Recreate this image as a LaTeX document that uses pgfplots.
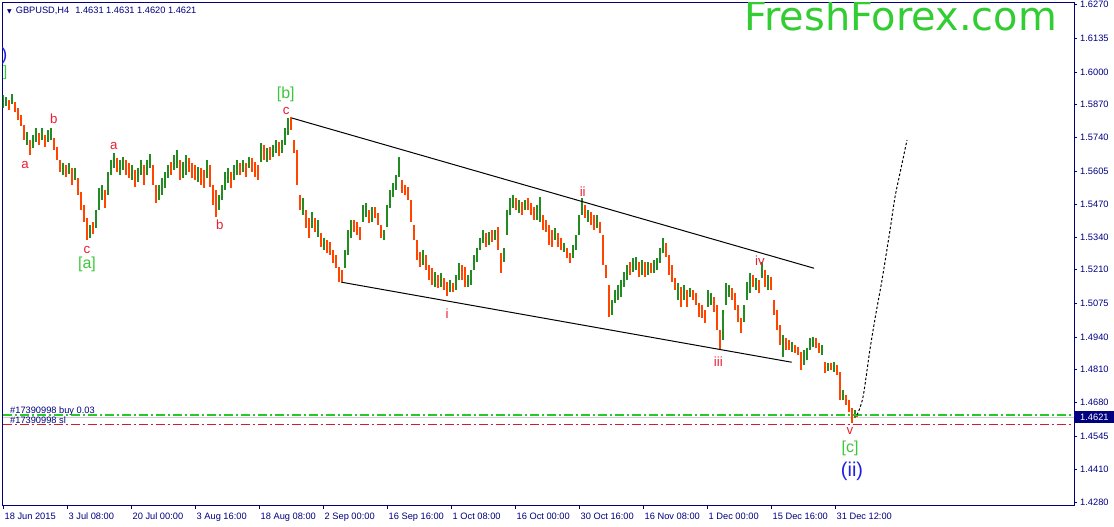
\documentclass[border=0pt]{standalone}
\usepackage{fontspec}
\setmainfont{Liberation Sans}
\newfontfamily\dejavu{DejaVu Sans}
\usepackage{pgfplots}
\pgfplotsset{compat=1.18}
\usepackage{pgfplotstable}
\definecolor{navy}{RGB}{0,0,128}
\definecolor{upg}{RGB}{34,139,34}
\definecolor{dno}{RGB}{255,69,0}
\definecolor{wred}{RGB}{235,30,50}
\definecolor{wgreen}{RGB}{60,200,60}
\definecolor{wblue}{RGB}{30,30,230}
\definecolor{ffgreen}{RGB}{50,205,50}
\definecolor{buygreen}{RGB}{40,200,40}
\definecolor{slred}{RGB}{215,25,45}
\definecolor{bidgray}{RGB}{205,205,205}
\pgfplotstableread{
x lo hi c
0 1.5857 1.5909 1
3 1.5865 1.5901 1
6 1.5849 1.5889 0
9 1.5873 1.5913 1
12 1.5841 1.5881 0
15 1.5809 1.5857 0
18 1.5785 1.5829 0
21 1.5729 1.5789 0
24 1.5709 1.5761 1
27 1.5669 1.5729 0
30 1.5697 1.5749 1
33 1.5721 1.5777 1
36 1.5709 1.5757 0
39 1.5729 1.5777 1
42 1.5701 1.5749 0
45 1.5721 1.5769 1
48 1.5729 1.5777 1
51 1.5689 1.5737 0
54 1.5649 1.5701 0
57 1.5601 1.5649 0
60 1.5589 1.5637 1
63 1.5581 1.5629 0
66 1.5593 1.5637 1
69 1.5549 1.5617 0
72 1.5569 1.5617 1
75 1.5509 1.5577 0
78 1.5449 1.5521 0
81 1.5401 1.5469 0
84 1.5329 1.5417 0
87 1.5337 1.5389 1
90 1.5353 1.5401 0
93 1.5377 1.5449 1
96 1.5449 1.5537 1
99 1.5489 1.5549 1
102 1.5457 1.5529 0
105 1.5509 1.5601 1
108 1.5589 1.5649 1
111 1.5617 1.5677 1
114 1.5601 1.5657 0
117 1.5589 1.5649 1
120 1.5609 1.5661 1
123 1.5589 1.5649 0
126 1.5577 1.5637 0
129 1.5569 1.5629 1
132 1.5541 1.5609 0
135 1.5561 1.5617 1
138 1.5589 1.5649 1
141 1.5549 1.5629 0
144 1.5589 1.5649 1
147 1.5617 1.5673 1
150 1.5549 1.5629 0
153 1.5477 1.5549 0
156 1.5489 1.5549 1
159 1.5509 1.5577 1
162 1.5537 1.5601 1
165 1.5577 1.5629 1
168 1.5589 1.5641 0
171 1.5609 1.5669 1
174 1.5617 1.5689 1
177 1.5569 1.5649 0
180 1.5577 1.5641 1
183 1.5589 1.5669 1
186 1.5601 1.5657 0
189 1.5577 1.5637 0
192 1.5569 1.5629 0
195 1.5561 1.5621 1
198 1.5549 1.5617 0
201 1.5537 1.5609 0
204 1.5577 1.5649 1
207 1.5541 1.5629 0
210 1.5469 1.5549 0
213 1.5421 1.5529 0
216 1.5449 1.5509 1
219 1.5489 1.5549 1
222 1.5529 1.5601 1
225 1.5557 1.5617 1
228 1.5537 1.5601 0
231 1.5569 1.5629 1
234 1.5589 1.5649 1
237 1.5589 1.5637 0
240 1.5601 1.5649 1
243 1.5581 1.5637 0
246 1.5617 1.5661 1
249 1.5601 1.5657 0
252 1.5581 1.5641 0
255 1.5569 1.5629 0
258 1.5641 1.5717 1
261 1.5649 1.5709 0
264 1.5641 1.5697 1
267 1.5649 1.5701 0
270 1.5661 1.5709 1
273 1.5677 1.5729 1
276 1.5665 1.5721 0
279 1.5677 1.5729 1
282 1.5709 1.5777 1
285 1.5749 1.5817 1
288 1.5769 1.5821 0
291 1.5677 1.5729 0
294 1.5549 1.5689 0
297 1.5449 1.5509 0
300 1.5429 1.5497 1
303 1.5377 1.5449 0
306 1.5337 1.5417 0
309 1.5377 1.5441 1
312 1.5361 1.5417 0
315 1.5341 1.5409 1
318 1.5301 1.5357 0
321 1.5289 1.5337 1
324 1.5277 1.5329 0
327 1.5269 1.5321 0
330 1.5237 1.5289 0
333 1.5217 1.5269 0
336 1.5161 1.5221 0
339 1.5157 1.5209 0
342 1.5217 1.5289 1
345 1.5269 1.5369 1
348 1.5337 1.5409 1
351 1.5361 1.5409 0
354 1.5349 1.5401 0
357 1.5329 1.5381 0
360 1.5401 1.5469 1
363 1.5421 1.5477 1
366 1.5397 1.5449 0
369 1.5401 1.5461 1
372 1.5417 1.5461 0
375 1.5389 1.5437 0
378 1.5337 1.5389 0
381 1.5329 1.5369 1
384 1.5381 1.5469 1
387 1.5457 1.5529 1
390 1.5501 1.5557 1
393 1.5529 1.5589 1
396 1.5581 1.5661 1
399 1.5517 1.5569 0
402 1.5509 1.5549 0
405 1.5489 1.5541 0
408 1.5401 1.5489 0
411 1.5329 1.5389 0
414 1.5249 1.5329 0
417 1.5221 1.5281 0
420 1.5229 1.5289 1
423 1.5209 1.5269 0
426 1.5169 1.5229 0
429 1.5149 1.5217 0
432 1.5141 1.5201 1
435 1.5137 1.5189 0
438 1.5141 1.5197 1
441 1.5129 1.5177 0
444 1.5105 1.5161 0
447 1.5121 1.5169 1
450 1.5121 1.5157 0
453 1.5129 1.5189 1
456 1.5169 1.5237 1
459 1.5169 1.5229 0
462 1.5141 1.5221 0
465 1.5141 1.5189 1
468 1.5149 1.5209 1
471 1.5209 1.5269 1
474 1.5241 1.5297 1
477 1.5289 1.5337 1
480 1.5317 1.5369 1
483 1.5301 1.5357 0
486 1.5309 1.5361 1
489 1.5321 1.5369 0
492 1.5329 1.5369 1
495 1.5289 1.5381 0
498 1.5197 1.5277 0
501 1.5241 1.5297 1
504 1.5349 1.5449 1
507 1.5429 1.5497 1
510 1.5457 1.5509 1
513 1.5449 1.5497 0
516 1.5437 1.5489 1
519 1.5429 1.5481 0
522 1.5449 1.5489 1
525 1.5449 1.5497 0
528 1.5429 1.5477 0
531 1.5409 1.5461 0
534 1.5409 1.5469 1
537 1.5401 1.5501 1
540 1.5369 1.5429 0
543 1.5361 1.5409 0
546 1.5309 1.5389 0
549 1.5301 1.5369 0
552 1.5329 1.5377 1
555 1.5301 1.5357 0
558 1.5289 1.5337 0
561 1.5281 1.5317 1
564 1.5257 1.5297 0
567 1.5237 1.5277 0
570 1.5257 1.5309 1
573 1.5289 1.5349 1
576 1.5349 1.5429 1
579 1.5429 1.5497 1
582 1.5417 1.5469 0
585 1.5401 1.5449 1
588 1.5389 1.5441 0
591 1.5369 1.5429 0
594 1.5377 1.5429 1
597 1.5357 1.5401 0
600 1.5229 1.5349 0
603 1.5177 1.5229 0
606 1.5021 1.5149 0
609 1.5029 1.5089 1
612 1.5077 1.5129 1
615 1.5089 1.5149 1
618 1.5101 1.5169 1
621 1.5141 1.5201 1
624 1.5169 1.5229 1
627 1.5189 1.5241 0
630 1.5201 1.5257 1
633 1.5209 1.5261 1
636 1.5181 1.5241 0
639 1.5189 1.5249 1
642 1.5181 1.5241 0
645 1.5189 1.5241 1
648 1.5197 1.5237 0
651 1.5197 1.5249 1
654 1.5209 1.5257 1
657 1.5237 1.5297 1
660 1.5277 1.5337 1
663 1.5261 1.5317 0
666 1.5189 1.5269 0
669 1.5161 1.5229 0
672 1.5129 1.5177 0
675 1.5089 1.5157 1
678 1.5061 1.5141 0
681 1.5089 1.5149 1
684 1.5061 1.5129 0
687 1.5101 1.5137 1
690 1.5089 1.5129 0
693 1.5069 1.5117 0
696 1.5021 1.5077 0
699 1.5017 1.5069 0
702 1.4997 1.5049 0
705 1.5061 1.5129 1
708 1.5069 1.5117 1
711 1.5041 1.5101 0
714 1.4969 1.5069 0
717 1.4893 1.4969 0
720 1.4929 1.5049 1
723 1.5069 1.5157 1
726 1.5101 1.5149 1
729 1.5089 1.5137 0
732 1.5049 1.5117 0
735 1.5001 1.5069 0
738 1.4957 1.5017 0
741 1.5001 1.5069 1
744 1.5089 1.5161 1
747 1.5117 1.5197 1
750 1.5141 1.5189 0
753 1.5129 1.5177 1
756 1.5117 1.5169 0
759 1.5177 1.5241 1
762 1.5141 1.5209 0
765 1.5129 1.5189 1
768 1.5129 1.5181 0
771 1.5029 1.5089 0
774 1.4969 1.5049 0
777 1.4909 1.4989 0
780 1.4861 1.4949 1
783 1.4889 1.4937 0
786 1.4889 1.4929 0
789 1.4881 1.4921 1
792 1.4877 1.4909 0
795 1.4869 1.4901 0
798 1.4809 1.4881 0
801 1.4829 1.4889 1
804 1.4849 1.4897 1
807 1.4889 1.4937 1
810 1.4901 1.4941 1
813 1.4897 1.4937 0
816 1.4877 1.4917 0
819 1.4869 1.4909 1
822 1.4797 1.4841 0
825 1.4805 1.4837 1
828 1.4809 1.4837 0
831 1.4801 1.4841 1
834 1.4789 1.4829 0
837 1.4689 1.4801 0
840 1.4689 1.4729 1
843 1.4669 1.4709 0
846 1.4641 1.4689 0
849 1.4597 1.4657 0
852 1.4617 1.4649 1
854 1.4620 1.4631 0
}\candles
\begin{document}
\begin{tikzpicture}[x=1bp,y=1bp]
\useasboundingbox (-2.7,-21) rectangle (1111.3,506);
\begin{axis}[at={(0,0)}, anchor=south west, scale only axis,
  width=1071.3bp, height=503.3bp,
  xmin=-0.3, xmax=1071, ymin=1.4265, ymax=1.62782,
  axis line style={navy, line width=1bp},
  tick align=outside, major tick length=3bp,
  major tick style={navy, line width=0.8bp},
  xtick pos=bottom, ytick pos=right, yticklabel pos=right,
  xtick={0,64,128,192,256,320,384,448,512,576,640,704,768,832},
  xticklabels={18 Jun 2015, 3 Jul 08:00, 20 Jul 00:00, 3 Aug 16:00, 18 Aug 08:00, 2 Sep 00:00, 16 Sep 16:00, 1 Oct 08:00, 16 Oct 00:00, 30 Oct 16:00, 16 Nov 08:00, 1 Dec 00:00, 15 Dec 16:00, 31 Dec 12:00},
  ytick={1.6270,1.6135,1.6000,1.5870,1.5740,1.5605,1.5470,1.5340,1.5210,1.5075,1.4940,1.4810,1.4680,1.4545,1.4410,1.4280},
  yticklabels={1.6270,1.6135,1.6000,1.5870,1.5740,1.5605,1.5470,1.5340,1.5210,1.5075,1.4940,1.4810,1.4680,1.4545,1.4410,1.4280},
  xticklabel style={anchor=base west, inner sep=0pt, xshift=1.5bp, yshift=-10.5bp, text=navy, font=\fontsize{9.3}{9.3}\selectfont},
  yticklabel style={anchor=west, inner sep=0pt, xshift=3bp, text=navy, font=\fontsize{9.3}{9.3}\selectfont},
  axis background/.style={fill=white},
]
% horizontal order lines
\addplot[bidgray, line width=0.9bp] coordinates {(-0.3,1.4620) (1071,1.4620)};
% candles
\addplot[upg, line width=2.9bp, quiver={u=0, v=\thisrow{hi}-\thisrow{lo}, every arrow/.append style={line width=2.9bp, draw=upg}},
  restrict expr to domain={\thisrow{c}}{0.5:1.5}] table[x=x, y=lo] {\candles};
\addplot[dno, line width=2.9bp, quiver={u=0, v=\thisrow{hi}-\thisrow{lo}, every arrow/.append style={line width=2.9bp, draw=dno}},
  restrict expr to domain={\thisrow{c}}{-0.5:0.5}] table[x=x, y=lo] {\candles};
\addplot[buygreen, line width=1.3bp, dash pattern=on 9bp off 3bp on 2bp off 3bp] coordinates {(-0.3,1.4629) (1071,1.4629)};
\addplot[slred, line width=1bp, dash pattern=on 9bp off 3bp on 2bp off 3bp] coordinates {(-0.3,1.4589) (1071,1.4589)};
% channel lines
\addplot[black, line width=1bp] coordinates {(288.7,1.5817) (811,1.5216)};
\addplot[black, line width=1bp] coordinates {(338.7,1.5160) (788.7,1.4840)};
% projection
\addplot[black, line width=1bp, dash pattern=on 2.5bp off 2bp, smooth] coordinates {(854,1.4629) (860,1.4701) (867,1.4893) (873,1.5037) (879,1.5169) (887,1.5369) (892,1.5501) (897,1.5597) (904,1.5729)};
% texts
\node[anchor=base west, inner sep=0pt, text=navy, font=\fontsize{9.3}{9.3}\selectfont] at (axis cs:4,1.6235) {{\dejavu\fontsize{6}{6}\selectfont ▼}\hspace{4bp}GBPUSD,H4\hspace{6bp}1.4631 1.4631 1.4620 1.4621};
\node[anchor=base west, inner sep=0pt, text=ffgreen, font=\dejavu\fontsize{40}{40}\selectfont] at (axis cs:741,1.6166) {FreshForex.com};
\node[anchor=base west, inner sep=0pt, text=navy, font=\fontsize{9.3}{9.3}\selectfont] at (axis cs:7,1.4633) {\#17390998 buy 0.03};
\node[anchor=base west, inner sep=0pt, text=navy, font=\fontsize{9.3}{9.3}\selectfont] at (axis cs:7,1.4593) {\#17390998 sl};
% wave labels
\begin{scope}[every node/.style={inner sep=0pt}]
\node[anchor=east, text=wblue, font=\fontsize{18}{18}\selectfont] at (axis cs:4.5,1.6067) {)};
\node[anchor=east, text=wgreen, font=\fontsize{15}{15}\selectfont] at (axis cs:4.5,1.5997) {]};
\node[text=wred, font=\fontsize{13.3}{13.3}\selectfont] at (axis cs:22,1.5628) {a};
\node[text=wred, font=\fontsize{13.3}{13.3}\selectfont] at (axis cs:50.7,1.5813) {b};
\node[text=wred, font=\fontsize{13.3}{13.3}\selectfont] at (axis cs:84,1.5288) {c};
\node[text=wgreen, font=\fontsize{16}{16}\selectfont] at (axis cs:84,1.5233) {[a]};
\node[text=wred, font=\fontsize{13.3}{13.3}\selectfont] at (axis cs:110.7,1.5704) {a};
\node[text=wred, font=\fontsize{13.3}{13.3}\selectfont] at (axis cs:216.7,1.5388) {b};
\node[text=wgreen, font=\fontsize{16}{16}\selectfont] at (axis cs:282.7,1.5912) {[b]};
\node[text=wred, font=\fontsize{13.3}{13.3}\selectfont] at (axis cs:283.3,1.5844) {c};
\node[text=wred, font=\fontsize{13.3}{13.3}\selectfont] at (axis cs:444,1.5034) {i};
\node[text=wred, font=\fontsize{13.3}{13.3}\selectfont] at (axis cs:579.7,1.5522) {ii};
\node[text=wred, font=\fontsize{13.3}{13.3}\selectfont] at (axis cs:715.3,1.4842) {iii};
\node[text=wred, font=\fontsize{13.3}{13.3}\selectfont] at (axis cs:757,1.5247) {iv};
\node[text=wred, font=\fontsize{13.3}{13.3}\selectfont] at (axis cs:847,1.4565) {v};
\node[text=wgreen, font=\fontsize{16}{16}\selectfont] at (axis cs:847,1.4497) {[c]};
\node[text=wblue, font=\fontsize{20}{20}\selectfont] at (axis cs:849,1.4405) {(ii)};
\end{scope}
\coordinate (bid) at (axis cs:1071,1.4621);
\end{axis}
\node[anchor=west, fill=navy, text=white, inner xsep=5bp, inner ysep=2.3bp, text height=6.6bp, text depth=0pt, font=\fontsize{9.3}{9.3}\selectfont] at ([xshift=1bp]bid) {1.4621};
\end{tikzpicture}
\end{document}
